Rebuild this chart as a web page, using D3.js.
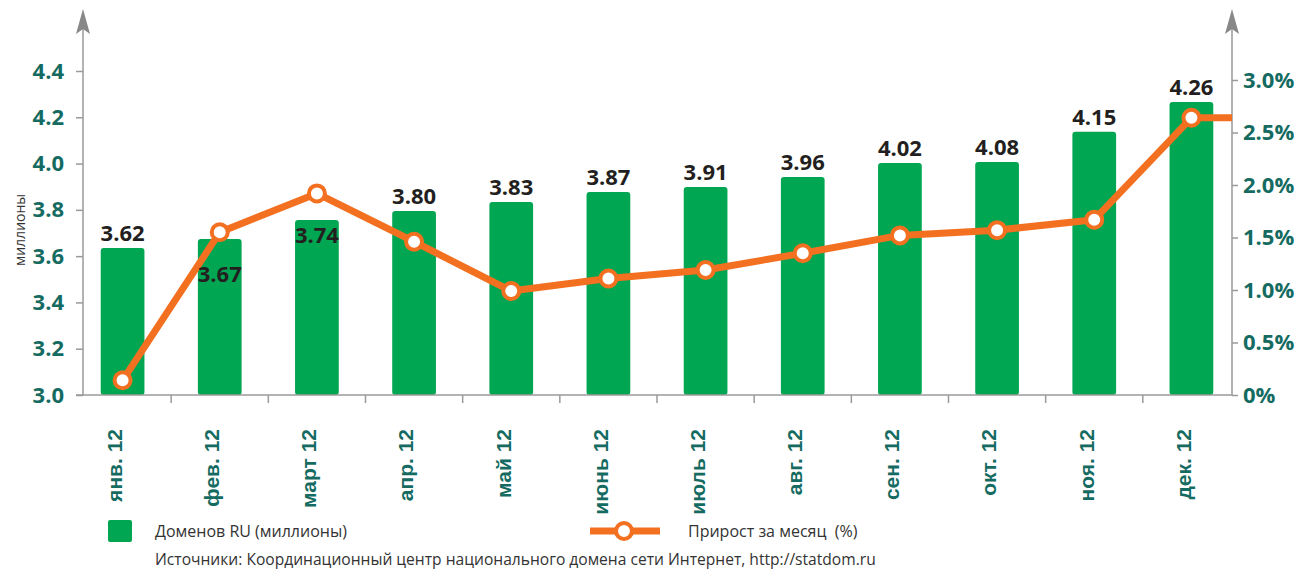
<!DOCTYPE html>
<html>
<head>
<meta charset="utf-8">
<script src="https://cdn.jsdelivr.net/npm/d3@7"></script>
<style>
  body { margin: 0; background: #fff; }
  svg { display: block; }
</style>
</head>
<body>
<script>
// months, bar values (millions), labels and monthly growth (%)
var months = ['янв. 12', 'фев. 12', 'март 12', 'апр. 12', 'май 12', 'июнь 12', 'июль 12', 'авг. 12', 'сен. 12', 'окт. 12', 'ноя. 12', 'дек. 12'];
var domains = [3.635, 3.674, 3.756, 3.795, 3.834, 3.877, 3.899, 3.942, 4.003, 4.007, 4.137, 4.266];
var domainLabels = ['3.62', '3.67', '3.74', '3.80', '3.83', '3.87', '3.91', '3.96', '4.02', '4.08', '4.15', '4.26'];
var growth = [0.14, 1.55, 1.92, 1.46, 0.99, 1.11, 1.19, 1.35, 1.52, 1.57, 1.67, 2.64];
var leftTicks = [3.0, 3.2, 3.4, 3.6, 3.8, 4.0, 4.2, 4.4];
var rightTicks = [0, 0.5, 1.0, 1.5, 2.0, 2.5, 3.0];

var width = 1303, height = 571;
var axisL = 83, axisR = 1232, base = 395;
var teal = '#156b61', green = '#00a651', orange = '#f37021', grey = '#9a9a9a';

var svg = d3.select('body').append('svg')
  .attr('width', width)
  .attr('height', height);

var x = d3.scaleBand()
  .domain(months)
  .range([74, 1240])
  .paddingInner(0.55)
  .paddingOuter(0.275);

var yL = d3.scaleLinear().domain([3.0, 4.4]).range([base, 71]);
var yR = d3.scaleLinear().domain([0, 3.0]).range([base, 80]);

// bars
svg.selectAll('rect.bar')
  .data(domains)
  .enter()
  .append('rect')
  .attr('class', 'bar')
  .attr('x', (d, i) => x(months[i]))
  .attr('y', d => yL(d))
  .attr('width', x.bandwidth())
  .attr('height', d => base - yL(d))
  .attr('rx', 3)
  .attr('fill', green);

// left axis
var leftAxis = d3.axisLeft(yL).tickValues(leftTicks).tickFormat(d3.format('.1f')).tickSize(7).tickPadding(12);
var gL = svg.append('g').attr('transform', 'translate(' + axisL + ',0)').call(leftAxis);
gL.select('.domain').remove();
gL.selectAll('line').attr('stroke', grey).attr('stroke-width', 1.5);
gL.selectAll('text').attr('fill', teal).style('font-family', 'Open Sans').style('font-weight', 'bold').style('font-size', '22px');

// right axis
var rightAxis = d3.axisRight(yR).tickValues(rightTicks).tickFormat(d => d === 0 ? '0%' : d3.format('.1f')(d) + '%').tickSize(6).tickPadding(5);
var gR = svg.append('g').attr('transform', 'translate(' + axisR + ',0)').call(rightAxis);
gR.select('.domain').remove();
gR.selectAll('line').attr('stroke', grey).attr('stroke-width', 1.5);
gR.selectAll('text').attr('fill', teal).style('font-family', 'Open Sans').style('font-weight', 'bold').style('font-size', '22px');

// vertical axis lines with arrows
[axisL, axisR].forEach(function (ax) {
  svg.append('line')
    .attr('x1', ax).attr('x2', ax)
    .attr('y1', 25).attr('y2', base)
    .attr('stroke', grey).attr('stroke-width', 1.5);
  svg.append('path')
    .attr('d', 'M' + ax + ',9 L' + (ax - 7) + ',34 L' + ax + ',29 L' + (ax + 7) + ',34 Z')
    .attr('fill', '#888');
});

// category axis
svg.append('line')
  .attr('x1', 76).attr('x2', axisR)
  .attr('y1', base).attr('y2', base)
  .attr('stroke', grey).attr('stroke-width', 1.5);

var step = x.step();
svg.selectAll('line.xtick')
  .data(months.slice(1))
  .enter()
  .append('line')
  .attr('class', 'xtick')
  .attr('x1', d => x(d) - (step - x.bandwidth()) / 2)
  .attr('x2', d => x(d) - (step - x.bandwidth()) / 2)
  .attr('y1', base).attr('y2', base + 8)
  .attr('stroke', grey).attr('stroke-width', 1.5);

svg.selectAll('text.month')
  .data(months)
  .enter()
  .append('text')
  .attr('class', 'month')
  .attr('transform', d => 'translate(' + (x(d) + x.bandwidth() / 2 - 8) + ',429) rotate(-90)')
  .attr('dy', '0.35em')
  .attr('text-anchor', 'end')
  .attr('fill', teal)
  .style('font-family', 'Liberation Sans, Arial')
  .style('font-weight', 'bold')
  .style('font-size', '21px')
  .text(d => d);

// y label
svg.append('text')
  .attr('transform', 'translate(20,230) rotate(-90)')
  .attr('dy', '0.35em')
  .attr('text-anchor', 'middle')
  .attr('fill', '#333')
  .style('font-family', 'Open Sans')
  .style('font-size', '14px')
  .text('миллионы');

// growth line (extends flat to the right axis after the last point)
var cx = i => x(months[i]) + x.bandwidth() / 2;
var pts = growth.map((d, i) => [cx(i), yR(d)]);
pts.push([axisR, yR(growth[growth.length - 1])]);

svg.append('path')
  .attr('d', d3.line()(pts))
  .attr('fill', 'none')
  .attr('stroke', orange)
  .attr('stroke-width', 7)
  .attr('stroke-linejoin', 'round');

svg.selectAll('circle.pt')
  .data(growth)
  .enter()
  .append('circle')
  .attr('class', 'pt')
  .attr('cx', (d, i) => cx(i))
  .attr('cy', d => yR(d))
  .attr('r', 8)
  .attr('fill', '#fff')
  .attr('stroke', orange)
  .attr('stroke-width', 4);

// value labels; placed below the point when the line covers the bar top
svg.selectAll('text.val')
  .data(domains)
  .enter()
  .append('text')
  .attr('class', 'val')
  .attr('x', (d, i) => cx(i))
  .attr('y', function (d, i) {
    var top = yL(d), py = yR(growth[i]);
    if (py < top + 5 && py > top - 40) return py + 50;
    return top - 7;
  })
  .attr('text-anchor', 'middle')
  .attr('fill', '#231f20')
  .style('font-family', 'Open Sans')
  .style('font-weight', 'bold')
  .style('font-size', '22px')
  .text((d, i) => domainLabels[i]);

// legend
svg.append('rect')
  .attr('x', 108).attr('y', 520).attr('width', 24).attr('height', 22)
  .attr('rx', 2).attr('fill', green);
svg.append('text')
  .attr('x', 155).attr('y', 531).attr('dy', '0.35em')
  .attr('fill', '#333').style('font-family', 'Open Sans').style('font-size', '16px')
  .text('Доменов RU (миллионы)');

svg.append('line')
  .attr('x1', 590).attr('x2', 660).attr('y1', 531).attr('y2', 531)
  .attr('stroke', orange).attr('stroke-width', 7);
svg.append('circle')
  .attr('cx', 624).attr('cy', 531).attr('r', 8)
  .attr('fill', '#fff').attr('stroke', orange).attr('stroke-width', 4);
svg.append('text')
  .attr('x', 688).attr('y', 531).attr('dy', '0.35em')
  .attr('fill', '#333').style('font-family', 'Open Sans').style('font-size', '16px')
  .text('Прирост за месяц\u00a0\u00a0(%)');

svg.append('text')
  .attr('x', 155).attr('y', 560).attr('dy', '0.35em')
  .attr('fill', '#333').style('font-family', 'Open Sans').style('font-size', '15.6px')
  .text('Источники: Координационный центр национального домена сети Интернет, http://statdom.ru');
</script>
</body>
</html>
